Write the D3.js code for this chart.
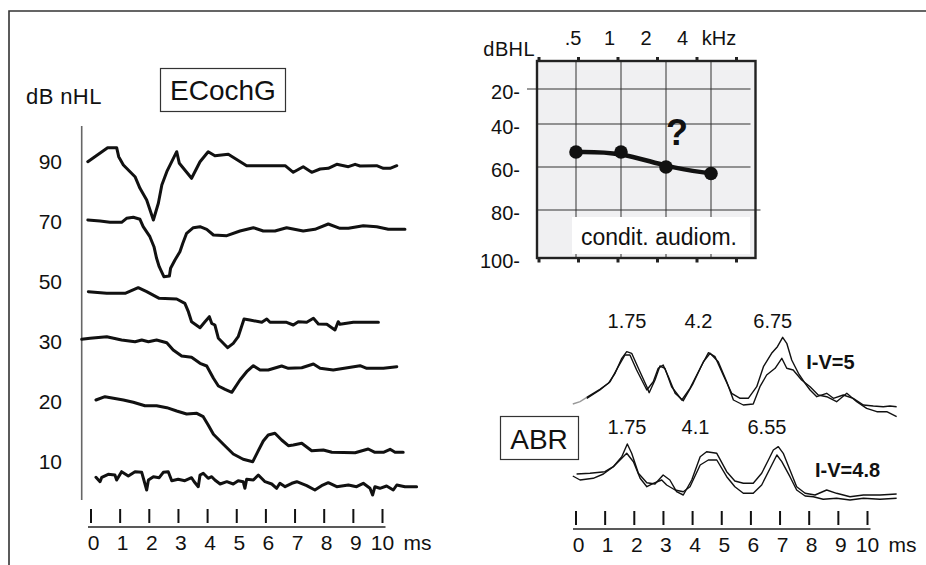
<!DOCTYPE html>
<html>
<head>
<meta charset="utf-8">
<script src="https://cdn.jsdelivr.net/npm/d3@7"></script>
<style>
  html, body { margin: 0; padding: 0; background: #fff; }
  svg { display: block; font-family: "Liberation Sans", Arial, Helvetica, sans-serif; }
</style>
</head>
<body>
<svg id="fig" width="926" height="565"></svg>
<script>
// ---------- data ----------
// ECochG stimulus levels (dB nHL), top to bottom
const ecochgLevels = ["90", "70", "50", "30", "20", "10"];
// ECochG recordings: [time in ms, amplitude in arbitrary units relative to the row baseline]
const trace90 = [[-0.11,-0.07],[0.57,1.33],[0.88,1.33],[0.95,0.43],[1.11,-0.4],[1.28,-0.9],[1.51,-1.57],[1.68,-2.73],[1.91,-3.9],[2.14,-5.9],[2.31,-4.23],[2.43,-2.4],[2.6,-1.07],[2.94,0.93],[3.03,-0.23],[3.45,-1.73],[3.74,-0.07],[4.02,0.93],[4.25,0.53],[4.71,0.67],[5.34,-0.47],[6.66,-0.47],[6.94,-1.13],[7.28,-0.57],[7.57,-1.13],[7.86,-0.8],[8.14,-0.73],[8.43,-0.33],[8.83,-0.57],[9.06,-0.33],[9.23,-0.5],[9.8,-0.47],[10.03,-0.73],[10.26,-0.73],[10.49,-0.47]];
const trace70 = [[-0.11,0.1],[0.31,0],[0.65,-0.13],[1.05,-0.13],[1.22,0.27],[1.45,0.37],[1.68,0.17],[1.79,-0.57],[2.02,-1.57],[2.16,-2.57],[2.25,-3.73],[2.34,-4.57],[2.5,-5.57],[2.69,-5.5],[2.73,-4.73],[2.88,-3.9],[3.05,-3.07],[3.15,-2.23],[3.28,-1.23],[3.51,-0.67],[3.74,-0.57],[3.97,-0.83],[4.2,-1.4],[4.66,-1.47],[5.11,-1.0],[5.57,-0.67],[5.91,-1.0],[6.31,-1.0],[6.71,-0.67],[7.28,-1.0],[7.68,-0.83],[8.14,-0.3],[8.54,-0.73],[8.83,-0.73],[9.34,-0.47],[9.8,-0.57],[10.2,-0.83],[10.77,-0.83]];
const trace50 = [[-0.09,-1.07],[0.54,-1.23],[1.17,-1.23],[1.62,-0.67],[1.91,-1.07],[2.34,-1.73],[2.94,-1.8],[3.22,-2.23],[3.34,-3.07],[3.45,-4.07],[3.74,-4.67],[3.91,-4.07],[4.06,-3.57],[4.14,-4.23],[4.25,-4.4],[4.37,-5.73],[4.69,-6.67],[4.88,-6.23],[5.05,-5.57],[5.25,-3.8],[5.45,-3.9],[5.86,-4.13],[6.03,-3.8],[6.14,-4.13],[6.71,-4.13],[6.94,-4.4],[7.11,-4.07],[7.4,-4.13],[7.63,-3.73],[7.8,-4.3],[8.09,-4.33],[8.37,-4.9],[8.48,-4.07],[8.54,-4.33],[9.0,-4.13],[9.86,-4.13]];
const trace30 = [[-0.32,0.17],[-0.03,0.27],[0.54,0.43],[1.05,0.1],[1.51,-0.07],[1.74,0.1],[1.97,-0.07],[2.25,0.1],[2.6,-0.17],[2.82,-0.9],[3.11,-1.5],[3.45,-1.63],[3.74,-2.23],[3.97,-2.5],[4.2,-3.73],[4.37,-4.5],[4.6,-4.83],[4.83,-5.13],[5.11,-3.9],[5.34,-3.07],[5.57,-2.47],[5.8,-2.9],[6.08,-2.9],[6.54,-2.5],[6.77,-2.73],[7.23,-2.67],[7.63,-2.3],[7.86,-2.73],[8.31,-2.9],[9.23,-2.47],[9.46,-2.73],[10.03,-2.73],[10.49,-2.57]];
const trace20 = [[0.17,0.1],[0.48,0.43],[1.11,0.1],[1.45,-0.13],[1.85,-0.47],[2.25,-0.47],[2.6,-0.67],[2.94,-1.0],[3.28,-1.3],[3.63,-1.23],[3.85,-1.57],[4.02,-2.4],[4.2,-3.33],[4.54,-4.33],[4.88,-5.3],[5.22,-5.83],[5.55,-6.07],[5.74,-4.97],[5.91,-4.0],[6.08,-3.4],[6.31,-3.23],[6.54,-3.9],[6.77,-4.47],[6.94,-4.4],[7.23,-4.23],[7.57,-4.97],[7.97,-4.9],[8.26,-5.13],[9.06,-5.17],[9.51,-4.8],[9.74,-5.13],[10.03,-5.13],[10.26,-4.83],[10.43,-5.13],[10.71,-5.13]];
const trace10 = [[0.17,-1.63],[0.31,-2.07],[0.37,-1.63],[0.59,-1.33],[0.82,-1.4],[0.88,-1.9],[1.05,-1.07],[1.28,-1.5],[1.51,-1.07],[1.74,-1.13],[1.91,-2.9],[1.97,-1.9],[2.14,-1.57],[2.34,-1.67],[2.48,-1.13],[2.65,-1.07],[2.77,-1.97],[2.99,-1.83],[3.22,-1.97],[3.45,-1.67],[3.54,-2.07],[3.68,-2.57],[3.74,-1.4],[3.85,-1.23],[4.02,-1.73],[4.14,-1.57],[4.25,-1.9],[4.43,-2.3],[4.66,-2.07],[4.88,-2.3],[5.05,-1.97],[5.22,-2.07],[5.28,-2.73],[5.34,-1.83],[5.57,-1.9],[5.74,-1.4],[5.97,-2.07],[6.2,-2.3],[6.37,-2.73],[6.48,-2.23],[6.66,-2.57],[6.89,-2.23],[7.06,-2.07],[7.4,-2.47],[7.68,-2.9],[7.91,-2.47],[8.14,-2.17],[8.43,-2.57],[8.83,-2.4],[9.11,-2.57],[9.34,-2.23],[9.57,-2.73],[9.66,-3.4],[9.74,-2.57],[9.91,-2.73],[10.14,-2.5],[10.37,-2.9],[10.49,-2.4],[10.77,-2.57],[11.17,-2.57]];

// time axis ticks (ms)
const timeTicks = [0, 1, 2, 3, 4, 5, 6, 7, 8, 9, 10];
const timeUnit = "ms";

// conditioned audiometry thresholds
const audioFreqs = [0.5, 1, 2, 4];            // kHz
const audioThresholds = [53, 53, 60, 63];     // dB HL
const freqHeader = [".5", "1", "2", "4", "kHz"];
const hlTicks = [20, 40, 60, 80, 100];

// ABR: two recordings, each a pair of superimposed runs [ms, amplitude]
const abrRows = ["first", "second"];
const abrFirstA = [[-0.11,-0.4],[0.14,-0.17],[0.37,0.27],[0.82,1.07],[1.11,1.67],[1.34,2.67],[1.57,4.17],[1.74,4.83],[1.91,4.67],[2.14,3.17],[2.43,1.33],[2.51,0.73],[2.71,2.0],[2.88,3.4],[3.05,3.17],[3.28,1.33],[3.63,0],[3.91,1.17],[4.26,3.17],[4.54,4.73],[4.77,4.33],[5.05,2.5],[5.34,0.67],[5.63,0.17],[5.91,0.17],[6.2,1.33],[6.43,3.33],[6.71,4.67],[6.91,5.33],[7.09,6.27],[7.23,5.67],[7.4,4.0],[7.63,2.67],[7.86,1.67],[8.03,1.0],[8.26,0.33],[8.6,0.67],[8.83,0.17],[9.17,0.5],[9.51,0.17],[9.86,-0.5],[10.2,-0.6],[10.54,-0.67],[10.77,-0.6],[11.0,-0.67]];
const abrFirstB = [[0.37,0.17],[0.82,1.0],[1.17,1.83],[1.45,3.33],[1.68,4.5],[1.85,4.5],[2.08,3.0],[2.43,1.0],[2.65,1.83],[2.82,3.17],[2.99,3.5],[3.17,2.33],[3.4,0.67],[3.68,-0.07],[4.02,1.67],[4.37,3.83],[4.6,4.67],[4.88,3.83],[5.17,1.83],[5.4,0],[5.74,-0.5],[6.08,-0.4],[6.31,1.33],[6.54,2.5],[6.83,3.17],[7.06,4.17],[7.23,3.17],[7.45,3.0],[7.74,2.0],[8.03,1.33],[8.31,0.5],[8.6,0.33],[8.94,-0.17],[9.29,0.67],[9.63,-0.17],[9.97,-0.83],[10.32,-1.17],[10.66,-1.17],[11.0,-1.67]];
const abrSecondA = [[-0.11,0.9],[0.14,0.5],[0.59,0.67],[0.94,1.1],[1.28,1.83],[1.57,2.83],[1.76,4.1],[1.91,3.17],[2.14,1.17],[2.43,0.23],[2.71,0.1],[2.99,1.0],[3.22,0.5],[3.45,-0.67],[3.68,-1.0],[3.97,0.5],[4.26,2.83],[4.48,3.33],[4.83,3.17],[5.17,1.33],[5.45,0.4],[5.74,0.17],[6.08,0.17],[6.37,1.17],[6.6,2.5],[6.77,3.5],[6.94,3.83],[7.11,3.17],[7.34,1.5],[7.57,-0.17],[7.86,-0.83],[8.2,-1.0],[8.6,-0.5],[8.94,-0.83],[9.4,-1.17],[9.86,-1.0],[10.43,-1.0],[11.0,-0.9]];
const abrSecondB = [[0.02,1.1],[0.48,1.17],[0.99,1.33],[1.28,1.83],[1.51,2.5],[1.74,3.17],[1.97,2.33],[2.2,0.67],[2.43,-0.17],[2.65,0.17],[2.94,0.5],[3.11,0],[3.4,-0.5],[3.68,-0.67],[3.91,-0.17],[4.26,2.0],[4.54,2.5],[4.83,2.5],[5.17,0.83],[5.45,-0.17],[5.74,-0.83],[6.08,-0.83],[6.37,0],[6.66,1.67],[6.89,3.0],[7.06,2.33],[7.34,0.83],[7.57,-0.5],[7.86,-1.1],[8.14,-1.17],[8.48,-1.43],[8.94,-1.33],[9.4,-1.5],[9.86,-1.33],[10.43,-1.43],[11.0,-1.33]];
// peak latencies (ms) of waves I, III, V
const abrFirstLatencies = [1.75, 4.2, 6.75];
const abrSecondLatencies = [1.75, 4.1, 6.55];

// ---------- drawing ----------
const ink = "#111";
const svg = d3.select("#fig");

// open frame: top and left edges
svg.append("path")
  .attr("d", "M9,565V11H926")
  .attr("fill", "none").attr("stroke", "#333").attr("stroke-width", 1.6);

// shared amplitude scale (units -> pixel offset, upward positive)
const amp = d3.scaleLinear().domain([0, 1]).range([0, -10]);

function timeAxis(g, x, top) {
  g.selectAll("line.tick").data(timeTicks).join("line")
    .attr("class", "tick")
    .attr("x1", d => x(d)).attr("x2", d => x(d))
    .attr("y1", top).attr("y2", top + 14)
    .attr("stroke", ink).attr("stroke-width", 2);
  g.append("line")
    .attr("x1", x(timeTicks[0]) - 3).attr("x2", x(timeTicks[timeTicks.length - 1]) + 3)
    .attr("y1", top + 18).attr("y2", top + 18)
    .attr("stroke", "#222").attr("stroke-width", 1.4);
  g.selectAll("text.tl").data(timeTicks).join("text")
    .attr("class", "tl")
    .attr("x", d => x(d) + (d < 10 ? 2.5 : 0))
    .attr("y", top + 41)
    .attr("text-anchor", "middle")
    .attr("font-size", 21).attr("fill", ink)
    .text(d => d);
  g.append("text")
    .attr("x", x(timeTicks[timeTicks.length - 1]) + 21)
    .attr("y", top + 41)
    .attr("font-size", 21).attr("fill", ink)
    .text(timeUnit);
}

// ===== ECochG =====
const gE = svg.append("g");
const xE = d3.scaleLinear().domain([0, 10]).range([91, 382.5]);
const rowE = d3.scalePoint().domain(ecochgLevels).range([161, 461]);
const ecochgSeries = [
  { level: "90", data: trace90 }, { level: "70", data: trace70 },
  { level: "50", data: trace50 }, { level: "30", data: trace30 },
  { level: "20", data: trace20 }, { level: "10", data: trace10 }
];

gE.append("text").attr("x", 26).attr("y", 104)
  .attr("font-size", 22).attr("fill", ink).attr("letter-spacing", 0.4)
  .text("dB nHL");

gE.append("rect").attr("x", 160.5).attr("y", 68.5).attr("width", 125).attr("height", 43)
  .attr("fill", "#fff").attr("stroke", "#333").attr("stroke-width", 1.2);
gE.append("text").attr("x", 223).attr("y", 100).attr("text-anchor", "middle")
  .attr("font-size", 28).attr("fill", ink).text("ECochG");

gE.append("line").attr("x1", 81.7).attr("x2", 81.7).attr("y1", 126).attr("y2", 500)
  .attr("stroke", "#666").attr("stroke-width", 1.6);

gE.selectAll("text.lvl").data(ecochgLevels).join("text")
  .attr("class", "lvl")
  .attr("x", 62).attr("y", d => rowE(d)).attr("dy", "0.36em")
  .attr("text-anchor", "end").attr("font-size", 21).attr("fill", ink)
  .text(d => d);

ecochgSeries.forEach(s => {
  const line = d3.line().x(d => xE(d[0])).y(d => rowE(s.level) + amp(d[1]));
  gE.append("path").datum(s.data).attr("d", line)
    .attr("fill", "none").attr("stroke", ink).attr("stroke-width", 3)
    .attr("stroke-linejoin", "round").attr("stroke-linecap", "round");
});

timeAxis(gE, xE, 509);

// ===== Audiogram =====
const gA = svg.append("g");
const box = { left: 537, right: 755.5, top: 61, bottom: 258 };
const xF = d3.scaleLog().base(2).domain([0.5, 4]).range([576, 711]);
const yHL = d3.scaleLinear().domain(hlTicks).range([89, 124, 167, 210, 258]);
const xHead = d3.scalePoint().domain(freqHeader).range([573, 719]);

gA.append("rect").attr("x", box.left).attr("y", box.top)
  .attr("width", box.right - box.left).attr("height", box.bottom - box.top)
  .attr("fill", "#f0f0f2");

// vertical grid at test frequencies
gA.selectAll("line.vg").data(audioFreqs).join("line")
  .attr("class", "vg")
  .attr("x1", d => xF(d)).attr("x2", d => xF(d))
  .attr("y1", box.top).attr("y2", box.bottom)
  .attr("stroke", "#333").attr("stroke-width", 1);

// horizontal grid at hearing levels
gA.selectAll("line.hg").data(hlTicks.slice(0, 4)).join("line")
  .attr("class", "hg")
  .attr("x1", d => d === 20 ? box.left - 10 : box.left)
  .attr("x2", d => d === 80 ? box.right + 5 : box.right - 5)
  .attr("y1", d => yHL(d)).attr("y2", d => yHL(d))
  .attr("stroke", "#333").attr("stroke-width", 1);

// label plate at the bottom of the chart
gA.append("rect").attr("x", 572).attr("y", 217).attr("width", 178).attr("height", 37)
  .attr("fill", "#fff");
gA.append("text").attr("x", 581).attr("y", 245)
  .attr("font-size", 23).attr("fill", ink).text("condit. audiom.");

// box outline with small outward ticks
gA.append("rect").attr("x", box.left).attr("y", box.top)
  .attr("width", box.right - box.left).attr("height", box.bottom - box.top)
  .attr("fill", "none").attr("stroke", "#222").attr("stroke-width", 2.4);
const minor = d3.scalePoint().domain(d3.range(6)).range([539, 736.5]);
[box.top - 4, box.bottom + 1].forEach(y0 => {
  gA.selectAll(null).data(d3.range(6)).join("rect")
    .attr("x", d => minor(d) - 1.5).attr("y", y0).attr("width", 3).attr("height", 3.5)
    .attr("fill", "#222");
});

// header and axis labels
gA.append("text").attr("x", 535).attr("y", 56).attr("text-anchor", "end")
  .attr("font-size", 20).attr("fill", ink).attr("letter-spacing", 0.4).text("dBHL");
gA.selectAll("text.fh").data(freqHeader).join("text")
  .attr("class", "fh")
  .attr("x", d => xHead(d)).attr("y", 45).attr("text-anchor", "middle")
  .attr("font-size", 20).attr("fill", ink).text(d => d);
gA.selectAll("text.hl").data(hlTicks).join("text")
  .attr("class", "hl")
  .attr("x", 520).attr("y", d => yHL(d) + 3).attr("dy", "0.36em")
  .attr("text-anchor", "end").attr("font-size", 20).attr("fill", ink)
  .text(d => d + "-");

// threshold curve (smoothed) and points
const pts = audioFreqs.map((f, i) => [f, audioThresholds[i]]);
gA.append("path").datum(pts)
  .attr("d", d3.line().x(d => xF(d[0])).y(d => yHL(d[1])).curve(d3.curveBasis))
  .attr("fill", "none").attr("stroke", ink).attr("stroke-width", 4.5)
  .attr("stroke-linecap", "round");
gA.selectAll("circle").data(pts).join("circle")
  .attr("cx", d => xF(d[0])).attr("cy", d => yHL(d[1])).attr("r", 6.8)
  .attr("fill", ink);

gA.append("text").attr("x", 677).attr("y", 145).attr("text-anchor", "middle")
  .attr("font-size", 36).attr("font-weight", "bold").attr("fill", ink).text("?");

// ===== ABR =====
const gB = svg.append("g");
const xA = d3.scaleLinear().domain([0, 10]).range([576, 867.5]);
const rowA = d3.scalePoint().domain(abrRows).range([400, 485]);
const ivFmt = d3.format(".2~f");

const abrSets = [
  { row: "first", runs: [abrFirstA, abrFirstB], lat: abrFirstLatencies, labelY: 328, ivX: 7.9, ivY: 369 },
  { row: "second", runs: [abrSecondA, abrSecondB], lat: abrSecondLatencies, labelY: 434, ivX: 8.2, ivY: 477 }
];

abrSets.forEach(set => {
  const line = d3.line().x(d => xA(d[0])).y(d => rowA(set.row) + amp(d[1]));
  set.runs.forEach((run, k) => {
    if (set.row === "first" && k === 0) {
      // faint lead-in of the first run
      gB.append("path").datum(run.filter(d => d[0] <= 0.37)).attr("d", line)
        .attr("fill", "none").attr("stroke", "#999").attr("stroke-width", 1.4);
      run = run.filter(d => d[0] >= 0.37);
    }
    gB.append("path").datum(run).attr("d", line)
      .attr("fill", "none").attr("stroke", ink).attr("stroke-width", 1.4)
      .attr("stroke-linejoin", "round");
  });
  gB.selectAll(null).data(set.lat).join("text")
    .attr("x", d => xA(d)).attr("y", set.labelY).attr("text-anchor", "middle")
    .attr("font-size", 20).attr("fill", ink).text(d => d);
  gB.append("text").attr("x", xA(set.ivX)).attr("y", set.ivY)
    .attr("font-size", 20).attr("font-weight", "bold").attr("fill", ink)
    .text("I-V=" + ivFmt(set.lat[2] - set.lat[0]));
});

gB.append("rect").attr("x", 500.5).attr("y", 416.5).attr("width", 78).attr("height", 43)
  .attr("fill", "#fff").attr("stroke", "#333").attr("stroke-width", 1.2);
gB.append("text").attr("x", 539).attr("y", 449).attr("text-anchor", "middle")
  .attr("font-size", 28).attr("fill", ink).text("ABR");

timeAxis(gB, xA, 511);
</script>
</body>
</html>
